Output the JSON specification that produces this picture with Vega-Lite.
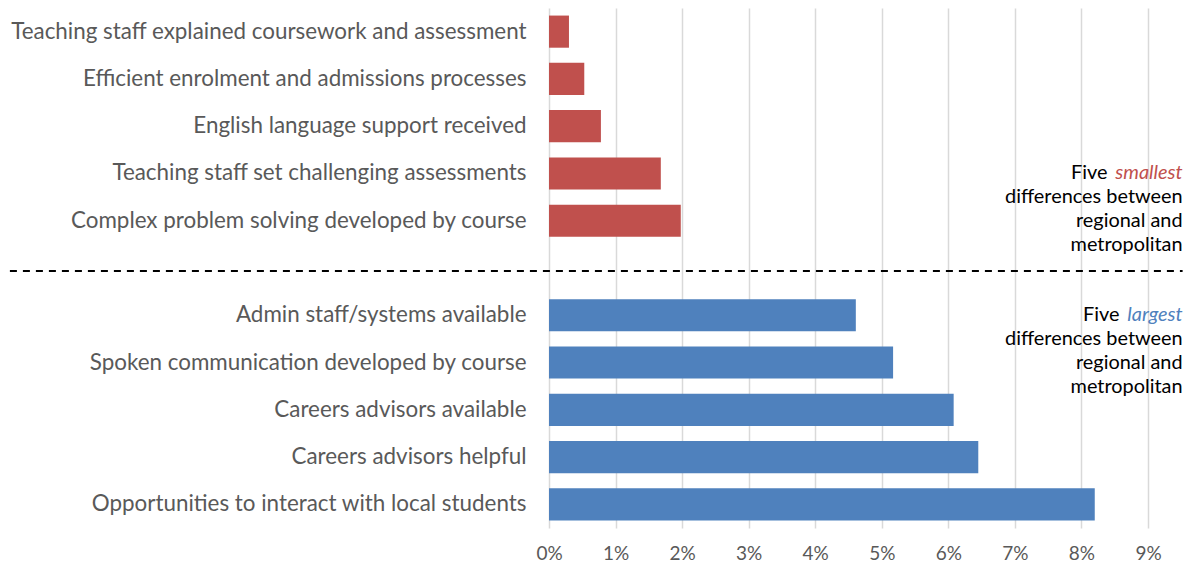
{
  "$schema": "https://vega.github.io/schema/vega-lite/v6.json",
  "width": 599,
  "height": 520,
  "autosize": "none",
  "padding": {"left": 549, "top": 8, "right": 45, "bottom": 42},
  "background": "white",
  "config": {"view": {"stroke": null}, "font": "Lato"},
  "data": {"values": [
    {"label": "Teaching staff explained coursework and assessment", "value": 0.0030, "group": "smallest"},
    {"label": "Efficient enrolment and admissions processes", "value": 0.0053, "group": "smallest"},
    {"label": "English language support received", "value": 0.0078, "group": "smallest"},
    {"label": "Teaching staff set challenging assessments", "value": 0.0168, "group": "smallest"},
    {"label": "Complex problem solving developed by course", "value": 0.0198, "group": "smallest"},
    {"label": "Admin staff/systems available", "value": 0.0461, "group": "largest"},
    {"label": "Spoken communication developed by course", "value": 0.0517, "group": "largest"},
    {"label": "Careers advisors available", "value": 0.0608, "group": "largest"},
    {"label": "Careers advisors helpful", "value": 0.0645, "group": "largest"},
    {"label": "Opportunities to interact with local students", "value": 0.0820, "group": "largest"}
  ]},
  "encoding": {
    "y": {
      "field": "label", "type": "nominal",
      "scale": {
        "domain": [
          "Teaching staff explained coursework and assessment",
          "Efficient enrolment and admissions processes",
          "English language support received",
          "Teaching staff set challenging assessments",
          "Complex problem solving developed by course",
          "gap",
          "Admin staff/systems available",
          "Spoken communication developed by course",
          "Careers advisors available",
          "Careers advisors helpful",
          "Opportunities to interact with local students"
        ],
        "paddingInner": 0.32, "paddingOuter": 0.16
      },
      "axis": {
        "title": null, "ticks": false, "domain": false, "grid": false,
        "labelFontSize": 22.4, "labelColor": "#595959", "labelPadding": 23, "labelLimit": 0,
        "labelExpr": "datum.value == 'gap' ? '' : datum.value"
      }
    }
  },
  "layer": [
    {
      "mark": {"type": "bar"},
      "encoding": {
        "x": {
          "field": "value", "type": "quantitative",
          "scale": {"domain": [0, 0.09], "nice": false},
          "axis": {
            "title": null, "format": ".0%", "values": [0, 0.01, 0.02, 0.03, 0.04, 0.05, 0.06, 0.07, 0.08, 0.09],
            "ticks": false, "domain": false, "grid": true, "gridColor": "#D9D9D9", "gridWidth": 1.5,
            "labelFontSize": 19, "labelColor": "#595959", "labelPadding": 16, "labelFlush": false
          }
        },
        "color": {
          "field": "group", "type": "nominal",
          "scale": {"domain": ["smallest", "largest"], "range": ["#C0504D", "#4F81BD"]},
          "legend": null
        }
      }
    },
    {
      "data": {"values": [{"label": "gap", "x1": -0.081, "x2": 0.0952}]},
      "mark": {"type": "rule", "strokeDash": [7, 6], "strokeWidth": 2, "color": "black", "yOffset": 3},
      "encoding": {
        "x": {"field": "x1", "type": "quantitative"},
        "x2": {"field": "x2"}
      }
    },
    {
      "data": {"values": [
        {"label": "Teaching staff set challenging assessments", "x": 0.0952, "word": "Five"}
      ]},
      "mark": {"type": "text", "align": "right", "baseline": "middle", "fontSize": 19.9, "color": "black", "dx": -75},
      "encoding": {"x": {"field": "x", "type": "quantitative"}, "text": {"field": "word"}}
    },
    {
      "data": {"values": [
        {"label": "Admin staff/systems available", "x": 0.0952, "word": "Five"}
      ]},
      "mark": {"type": "text", "align": "right", "baseline": "middle", "fontSize": 19.9, "color": "black", "dx": -63},
      "encoding": {"x": {"field": "x", "type": "quantitative"}, "text": {"field": "word"}}
    },
    {
      "data": {"values": [
        {"label": "Teaching staff set challenging assessments", "x": 0.0952, "word": "smallest", "group": "smallest"},
        {"label": "Admin staff/systems available", "x": 0.0952, "word": "largest", "group": "largest"}
      ]},
      "mark": {"type": "text", "align": "right", "baseline": "middle", "fontSize": 19.9, "fontStyle": "italic"},
      "encoding": {
        "x": {"field": "x", "type": "quantitative"},
        "text": {"field": "word"},
        "color": {"field": "group", "type": "nominal", "legend": null}
      }
    },
    {
      "data": {"values": [
        {"label": "Teaching staff set challenging assessments", "x": 0.0952, "lines": ["differences between", "regional and", "metropolitan"]},
        {"label": "Admin staff/systems available", "x": 0.0952, "lines": ["differences between", "regional and", "metropolitan"]}
      ]},
      "mark": {"type": "text", "align": "right", "baseline": "middle", "fontSize": 19.9, "color": "black", "lineHeight": 24, "dy": 24},
      "encoding": {"x": {"field": "x", "type": "quantitative"}, "text": {"field": "lines"}}
    }
  ]
}
